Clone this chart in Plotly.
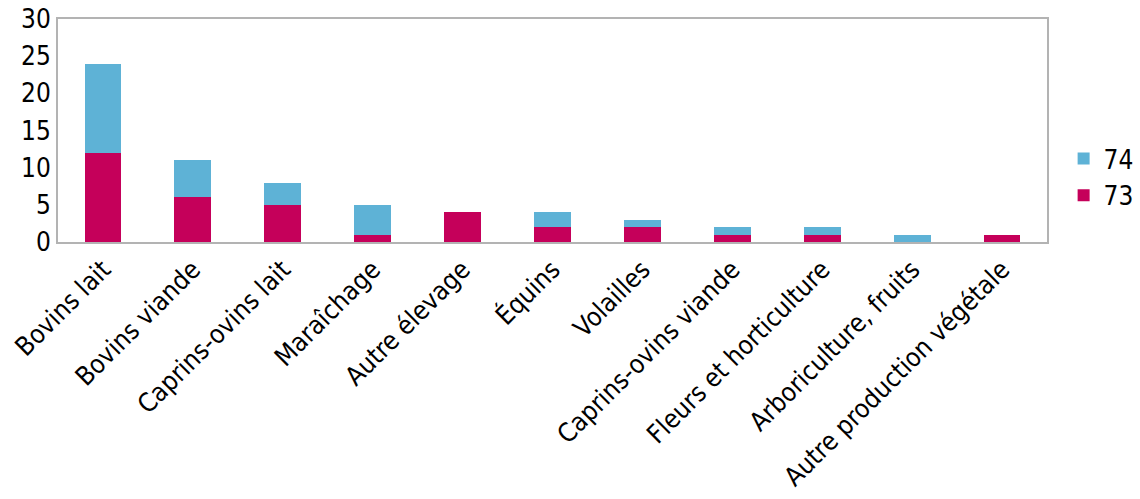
import plotly.graph_objects as go

categories = ["Bovins lait", "Bovins viande", "Caprins-ovins lait", "Maraîchage",
              "Autre élevage", "Équins", "Volailles", "Caprins-ovins viande",
              "Fleurs et horticulture", "Arboriculture, fruits", "Autre production végétale"]
s73 = [12, 6, 5, 1, 4, 2, 2, 1, 1, 0, 1]
s74 = [12, 5, 3, 4, 0, 2, 1, 1, 1, 1, 0]

fig = go.Figure()
fig.add_bar(x=categories, y=s73, name="73", marker_color="#C5005A", marker_line_width=0)
fig.add_bar(x=categories, y=s74, name="74", marker_color="#5EB2D6", marker_line_width=0)

FONT = "DejaVu Sans Condensed, DejaVu Sans"
axis_line = dict(showline=True, linecolor="#B3B3B3", linewidth=2, mirror=True)
fig.update_layout(
    barmode="stack",
    bargap=0.59,
    width=1140, height=499,
    margin=dict(l=58, r=93, t=19, b=257),
    plot_bgcolor="white", paper_bgcolor="white",
    font=dict(family=FONT, size=26, color="black"),
    xaxis=dict(tickangle=-45, showgrid=False, ticks="", automargin=False, **axis_line),
    yaxis=dict(range=[0, 30], dtick=5, showgrid=False, ticks="", zeroline=False,
               automargin=False, ticklabelstandoff=0, **axis_line),
    legend=dict(traceorder="reversed", xref="container", yref="container",
                x=0.933, xanchor="left", y=0.645, yanchor="middle",
                font=dict(size=26), itemwidth=30),
    showlegend=True,
)
fig.write_html("out.html", config={"displayModeBar": False},
               post_script="document.body.style.margin='0';document.body.style.overflow='hidden';")
